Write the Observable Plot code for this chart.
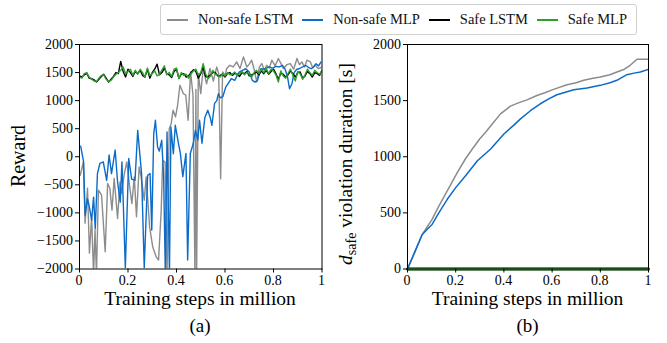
<!DOCTYPE html>
<html>
<head>
<meta charset="utf-8">
<script src="https://cdn.jsdelivr.net/npm/d3@7"></script>
<script src="https://cdn.jsdelivr.net/npm/@observablehq/plot@0.6"></script>
<style>
  html, body { margin: 0; padding: 0; background: #fff; }
  #wrap { position: relative; width: 667px; height: 343px; font-family: "Liberation Serif", serif; overflow: hidden; }
  #legend { position: absolute; left: 160px; top: 4px; width: 477px; height: 31px; border: 1px solid #d0d0d0; border-radius: 3px;
            display: flex; align-items: center; padding-left: 6px; box-sizing: border-box; font-size: 14.5px; color: #111; }
  #legend .sw { width: 27px; height: 0; border-top: 2px solid; margin-right: 10px; }
  #legend .lb { margin-right: 9px; white-space: nowrap; }
  .panel { position: absolute; top: 40px; }
</style>
</head>
<body>
<div id="wrap">
  <div id="legend"></div>
  <div id="pa" class="panel" style="left:0px"></div>
  <div id="pb" class="panel" style="left:333px"></div>
</div>
<script>
// ---- series names / colours ----
const seriesNames = ["Non-safe LSTM", "Non-safe MLP", "Safe LSTM", "Safe MLP"];
const seriesColors = ["#8c8c8c", "#0a6bc9", "#000000", "#2ca02c"];

// ---- axis ticks ----
const xTicks = [0, 0.2, 0.4, 0.6, 0.8, 1];
const rewardTicks = [-2000, -1500, -1000, -500, 0, 500, 1000, 1500, 2000];
const durationTicks = [0, 500, 1000, 1500, 2000];

// ---- panel (a): reward ----
const lstmX = [0.003,0.016,0.023,0.033,0.041,0.05,0.058,0.064,0.07,0.078,0.091,0.106,0.116,0.125,0.134,0.143,0.157,0.167,0.173,0.185,0.195,0.206,0.216,0.226,0.235,0.246,0.254,0.267,0.275,0.289,0.302,0.316,0.326,0.337,0.343,0.353,0.361,0.37,0.378,0.386,0.396,0.404,0.414,0.428,0.438,0.448,0.458,0.468,0.476,0.48,0.483,0.49,0.5,0.51,0.524,0.538,0.552,0.566,0.574,0.582,0.59,0.6,0.607,0.62,0.634,0.648,0.662,0.676,0.69,0.7,0.71,0.72,0.731,0.742,0.752,0.762,0.772,0.783,0.793,0.807,0.82,0.831,0.841,0.855,0.869,0.883,0.897,0.907,0.917,0.928,0.938,0.952,0.962,0.972,0.986,1.0];
const lstmY = [-329,-92,-1183,-560,-1717,-1070,-2100,-1300,-2100,-596,-685,-1692,-477,-560,-951,-388,-1099,-447,-655,-300,-92,-500,-832,-359,-1070,-181,-359,-774,-359,-1248,-1604,-1782,-1840,-951,-62,-100,-2100,500,590,830,710,900,1274,1125,1100,650,1512,1100,-2100,1200,-2100,1482,1125,1572,1300,1572,1350,1600,1480,-392,1512,1450,1572,1630,1600,1690,1570,1780,1600,1650,1720,1560,1333,1600,1660,1540,1630,1580,1720,1620,1750,1660,1570,1640,1660,1560,1750,1640,1690,1600,1720,1690,1580,1630,1570,1600];

const mlpX = [0.005,0.017,0.023,0.033,0.041,0.05,0.058,0.065,0.074,0.084,0.098,0.112,0.122,0.132,0.147,0.157,0.168,0.175,0.189,0.203,0.215,0.229,0.24,0.256,0.267,0.281,0.291,0.298,0.306,0.313,0.322,0.329,0.339,0.347,0.354,0.361,0.371,0.377,0.387,0.395,0.408,0.416,0.426,0.439,0.446,0.457,0.469,0.478,0.488,0.495,0.505,0.517,0.529,0.539,0.546,0.557,0.566,0.573,0.58,0.591,0.603,0.612,0.626,0.64,0.658,0.672,0.686,0.7,0.713,0.724,0.734,0.748,0.762,0.782,0.796,0.81,0.824,0.837,0.848,0.858,0.866,0.876,0.885,0.896,0.906,0.92,0.934,0.945,0.955,0.965,0.975,0.986,0.996];
const mlpY = [187,-92,-1040,-750,-900,-1130,-720,-1280,-300,-120,-92,-420,30,-300,120,-450,-810,-92,-1980,-30,-400,-420,470,-300,-1980,-330,-300,-1307,400,650,175,100,293,-355,-2100,440,-2100,530,53,560,240,60,-355,60,-1840,57,235,471,300,650,240,700,827,700,560,950,1000,1123,1050,1070,1241,1300,1390,1360,1508,1540,1568,1510,1360,1330,1360,1568,1560,1600,1580,1610,1600,1627,1560,1420,1212,1300,1500,1560,1568,1600,1627,1590,1568,1600,1657,1620,1690];

const safeSteps = d3.range(0, 101).map(i => i / 100);
const safeLstmY = [1440,1420,1460,1490,1400,1390,1370,1330,1380,1430,1470,1400,1330,1380,1430,1500,1480,1700,1520,1420,1560,1500,1430,1520,1480,1540,1450,1420,1560,1400,1500,1560,1650,1460,1500,1580,1480,1460,1410,1520,1560,1400,1470,1480,1420,1440,1500,1550,1520,1400,1480,1600,1430,1420,1460,1500,1500,1440,1450,1470,1420,1480,1500,1450,1490,1470,1430,1500,1480,1520,1440,1460,1480,1510,1460,1530,1480,1540,1470,1520,1560,1480,1380,1490,1470,1420,1460,1530,1480,1420,1500,1510,1400,1440,1520,1480,1420,1500,1480,1450,1540];
const safeMlpY = [1420,1400,1480,1500,1420,1380,1350,1340,1400,1450,1460,1380,1340,1360,1420,1470,1500,1540,1600,1480,1520,1560,1450,1540,1470,1560,1500,1420,1580,1450,1480,1530,1440,1470,1550,1620,1460,1500,1430,1560,1580,1390,1500,1450,1470,1400,1480,1530,1560,1450,1500,1660,1480,1390,1440,1540,1470,1460,1420,1480,1440,1500,1460,1470,1510,1450,1480,1520,1460,1500,1470,1420,1500,1540,1480,1560,1500,1570,1480,1560,1530,1460,1330,1530,1440,1400,1480,1560,1450,1350,1520,1480,1380,1460,1560,1500,1450,1540,1500,1470,1530];

// ---- panel (b): violation duration ----
const durLstmX = [0,0.03,0.061,0.08,0.102,0.13,0.165,0.207,0.24,0.269,0.3,0.324,0.355,0.386,0.427,0.46,0.496,0.537,0.57,0.606,0.662,0.7,0.731,0.77,0.80,0.84,0.869,0.9,0.924,0.952,1.0];
const durLstmY = [0,150,307,370,442,560,695,860,980,1069,1160,1218,1300,1382,1451,1480,1507,1546,1570,1600,1642,1660,1681,1700,1710,1730,1755,1780,1815,1869,1869];
const durMlpX = [0,0.03,0.061,0.08,0.102,0.13,0.165,0.2,0.241,0.29,0.345,0.4,0.44,0.469,0.51,0.551,0.59,0.62,0.69,0.745,0.80,0.84,0.869,0.91,0.94,0.966,1.0];
const durMlpY = [0,150,307,350,397,500,621,725,830,964,1069,1203,1280,1337,1410,1472,1520,1552,1597,1612,1636,1660,1681,1731,1745,1755,1779];
const durSafeX = [0, 1];
const durLstmSafeY = [0, 0];
const durMlpSafeY = [0, 0];

// ---- helpers ----
const toRows = (xs, ys) => xs.map((x, i) => ({x, y: ys[i]}));
const fmtX = d => String(d);
const fmtY = d => d < 0 ? "\u2212" + Math.abs(d) : String(d);
const FONT = "Liberation Serif";
const TICKFONT = 14;

// legend
const leg = document.getElementById("legend");
seriesNames.forEach((n, i) => {
  const sw = document.createElement("span"); sw.className = "sw"; sw.style.borderTopColor = seriesColors[i];
  const lb = document.createElement("span"); lb.className = "lb"; lb.textContent = n;
  leg.appendChild(sw); leg.appendChild(lb);
});

function common(yDomain, ml, mr) {
  return {
    width: 333, height: 303, marginLeft: ml, marginRight: mr, marginTop: 4, marginBottom: 74.5,
    style: {background: "transparent", color: "#000", overflow: "visible"},
    x: {domain: [0, 1]},
    y: {domain: yDomain}
  };
}
const blank = () => "";
const axOpts = {tickSize: 4, label: null, tickFormat: blank};

// panel (a)
const pa = Plot.plot({
  ...common([-2000, 2000], 79, 11.5),
  marks: [
    Plot.line(toRows(lstmX, lstmY), {x: "x", y: "y", stroke: seriesColors[0], strokeWidth: 1.4, clip: true}),
    Plot.line(toRows(mlpX, mlpY), {x: "x", y: "y", stroke: seriesColors[1], strokeWidth: 1.4, clip: true}),
    Plot.line(toRows(safeSteps, safeLstmY), {x: "x", y: "y", stroke: seriesColors[2], strokeWidth: 1.4, clip: true}),
    Plot.line(toRows(safeSteps, safeMlpY), {x: "x", y: "y", stroke: seriesColors[3], strokeWidth: 1.4, clip: true}),
    Plot.frame({stroke: "#000", strokeWidth: 1}),
    Plot.axisX({...axOpts, ticks: xTicks}),
    Plot.axisY({...axOpts, ticks: rewardTicks})
  ]
});
document.getElementById("pa").appendChild(pa);

// panel (b)
const pb = Plot.plot({
  ...common([0, 2000], 74, 18),
  marks: [
    Plot.line(toRows(durLstmX, durLstmY), {x: "x", y: "y", stroke: seriesColors[0], strokeWidth: 1.5, clip: true}),
    Plot.line(toRows(durMlpX, durMlpY), {x: "x", y: "y", stroke: seriesColors[1], strokeWidth: 1.5, clip: true}),
    Plot.line(toRows(durSafeX, durLstmSafeY), {x: "x", y: "y", stroke: seriesColors[2], strokeWidth: 3}),
    Plot.line(toRows(durSafeX, durMlpSafeY), {x: "x", y: "y", stroke: seriesColors[3], strokeWidth: 2.5}),
    Plot.frame({stroke: "#000", strokeWidth: 1}),
    Plot.axisX({...axOpts, ticks: xTicks}),
    Plot.axisY({...axOpts, ticks: durationTicks})
  ]
});
document.getElementById("pb").appendChild(pb);

// text helper (serif)
function addText(svg, x, y, txt, size, opts = {}) {
  const t = d3.select(svg).append("text")
    .attr("text-anchor", opts.anchor || "middle")
    .style("font-family", `"${FONT}", serif`)
    .style("font-size", size + "px")
    .attr("fill", "#000")
    .attr("transform", opts.rotate ? `translate(${x},${y}) rotate(-90)` : `translate(${x},${y})`);
  if (txt !== null) t.text(txt);
  return t;
}

// tick labels positioned with Plot's own scales
function tickLabels(svg, yTicks, marginLeft) {
  const sx = svg.scale("x"), sy = svg.scale("y");
  const yBottom = sy.apply(sy.domain[0]);
  xTicks.forEach(t => addText(svg, sx.apply(t), yBottom + 16, fmtX(t), TICKFONT));
  yTicks.forEach(t => addText(svg, marginLeft - 6, sy.apply(t) + 4.5, fmtY(t), TICKFONT, {anchor: "end"}));
}
tickLabels(pa, rewardTicks, 79);
tickLabels(pb, durationTicks, 74);

// axis titles and captions
addText(pa, 25, 116, "Reward", 20, {rotate: true});
addText(pa, 200, 265, "Training steps in million", 19.5);
addText(pa, 200, 292, "(a)", 19);

const yl = addText(pb, 19, 124, null, 19.5, {rotate: true});
yl.append("tspan").attr("font-style", "italic").text("d");
yl.append("tspan").style("font-size", "14px").attr("dy", 4).text("safe");
yl.append("tspan").attr("dy", -4).text(" violation duration [s]");
addText(pb, 194.5, 265, "Training steps in million", 19.5);
addText(pb, 194.5, 292, "(b)", 19);
</script>
</body>
</html>
